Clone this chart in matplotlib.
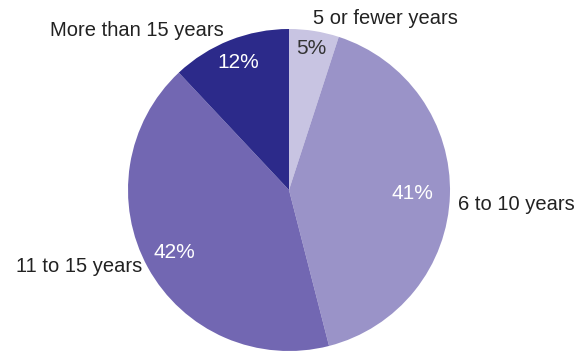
import numpy as np
import matplotlib
matplotlib.use("Agg")
import matplotlib.pyplot as plt

plt.rcParams["font.family"] = ["Liberation Sans", "DejaVu Sans"]

categories = ["5 or fewer years", "6 to 10 years", "11 to 15 years", "More than 15 years"]
shares = [5, 41, 42, 12]

COLORS = ["#c8c4e2", "#9a93c8", "#7267b2", "#2c2a8a"]
PCT_COLORS = ["#333333", "white", "white", "white"]
PCT_DIST = [0.89, 0.77, 0.81, 0.85]
# label anchors in pixel space (x, y from top), with alignment
LABEL_POS = [(385, 18, "center"), (458, 205, "left"), (142, 266, "right"), (137, 30, "center")]

W, H = 578, 351
CX, CY, R = 289, 190, 161

fig = plt.figure(figsize=(W / 100, H / 100), dpi=100)
ax = fig.add_axes([0, 0, 1, 1])

wedges, _ = ax.pie(shares, colors=COLORS, startangle=90, counterclock=False,
                   center=(CX, H - CY), radius=R, frame=True,
                   wedgeprops=dict(linewidth=0))
ax.set_xlim(0, W)
ax.set_ylim(0, H)
ax.set_aspect("equal")
ax.axis("off")

for w, v, c, d in zip(wedges, shares, PCT_COLORS, PCT_DIST):
    mid = np.deg2rad((w.theta1 + w.theta2) / 2)
    x = CX + d * R * np.cos(mid)
    y = H - CY + d * R * np.sin(mid)
    ax.text(x, y, f"{v}%", ha="center", va="center", color=c, fontsize=15)

for name, (x, y, ha) in zip(categories, LABEL_POS):
    ax.text(x, H - y, name, ha=ha, va="center", color="#222222", fontsize=14.5)

fig.savefig("out.png", dpi=100, facecolor="white")
